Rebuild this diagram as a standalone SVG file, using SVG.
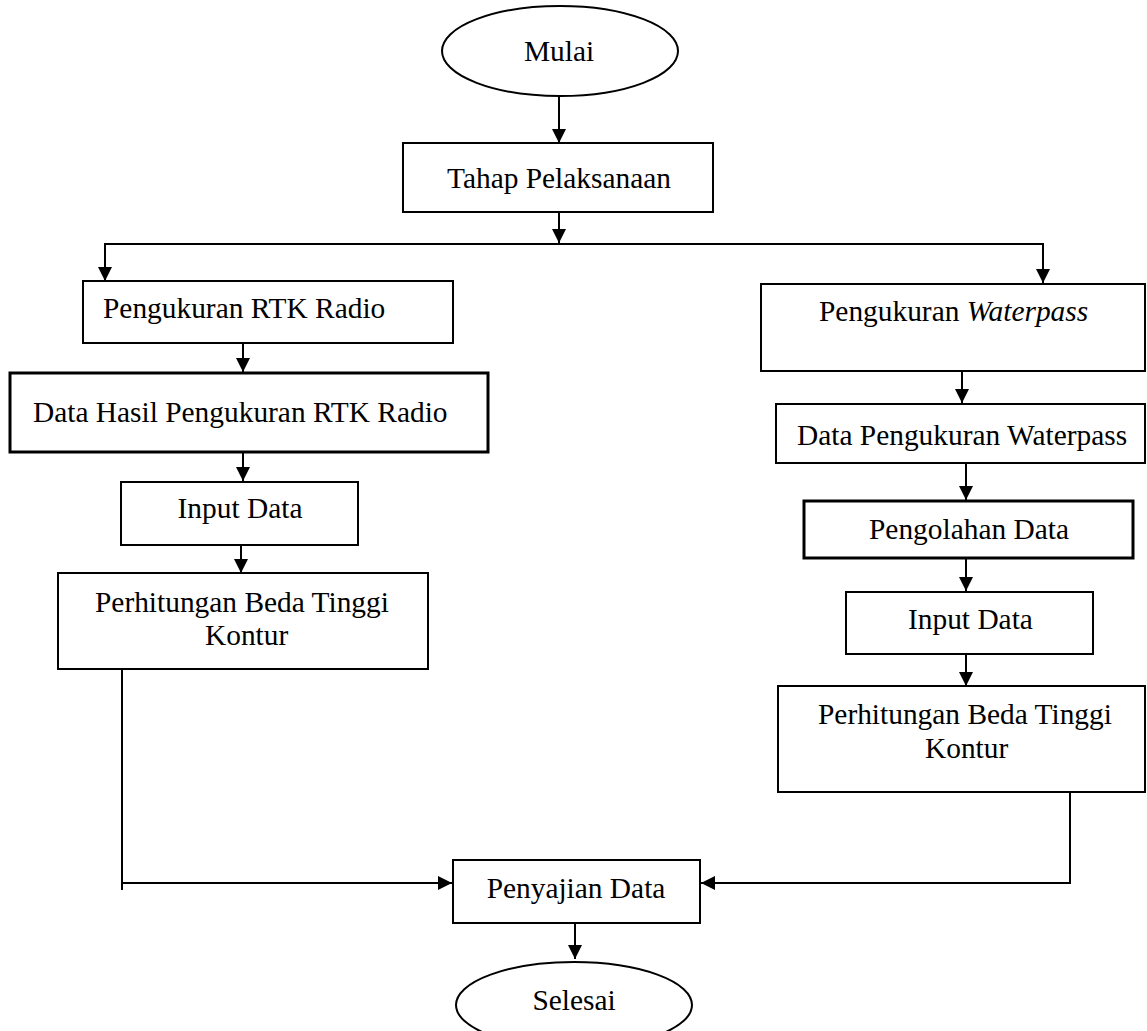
<svg xmlns="http://www.w3.org/2000/svg" width="1147" height="1031" viewBox="0 0 1147 1031">
<style>
.box{fill:#fff;stroke:#000;stroke-width:2}
.thick{stroke-width:3}
.t{font-family:"Liberation Serif","Times New Roman",serif;font-size:29.4px;fill:#000}
.c{stroke:#000;stroke-width:2;fill:none}
</style>
<defs>
<marker id="ah" markerUnits="userSpaceOnUse" markerWidth="14" markerHeight="14" refX="14" refY="7" orient="auto">
<path d="M0,0 L14,7 L0,14 z" fill="#000"/>
</marker>
</defs>
<rect width="1147" height="1031" fill="#fff"/>
<g id="connectors">
<line class="c" x1="559" y1="97" x2="559" y2="143" marker-end="url(#ah)"/>
<line class="c" x1="559" y1="212" x2="559" y2="243" marker-end="url(#ah)"/>
<line class="c" x1="104" y1="244" x2="1044" y2="244"/>
<line class="c" x1="105" y1="243" x2="105" y2="281" marker-end="url(#ah)"/>
<line class="c" x1="1043" y1="243" x2="1043" y2="283" marker-end="url(#ah)"/>
<line class="c" x1="243" y1="343" x2="243" y2="372" marker-end="url(#ah)"/>
<line class="c" x1="243" y1="452" x2="243" y2="481" marker-end="url(#ah)"/>
<line class="c" x1="241" y1="545" x2="241" y2="573" marker-end="url(#ah)"/>
<line class="c" x1="962" y1="371" x2="962" y2="403" marker-end="url(#ah)"/>
<line class="c" x1="966" y1="463" x2="966" y2="500" marker-end="url(#ah)"/>
<line class="c" x1="966" y1="558" x2="966" y2="591" marker-end="url(#ah)"/>
<line class="c" x1="966" y1="654" x2="966" y2="686" marker-end="url(#ah)"/>
<line class="c" x1="122" y1="669" x2="122" y2="890"/>
<line class="c" x1="122" y1="883" x2="452" y2="883" marker-end="url(#ah)"/>
<polyline class="c" points="1070,792 1070,883 701,883" marker-end="url(#ah)"/>
<line class="c" x1="575" y1="923" x2="575" y2="959" marker-end="url(#ah)"/>
</g>
<g id="mulai">
<ellipse class="box" cx="560" cy="51" rx="118" ry="45"/>
<text class="t" x="559" y="61" text-anchor="middle">Mulai</text>
</g>
<g id="tahap">
<rect class="box" x="403" y="143" width="310" height="69"/>
<text class="t" x="559" y="188" text-anchor="middle">Tahap Pelaksanaan</text>
</g>
<g id="rtk">
<rect class="box" x="83" y="281" width="370" height="62"/>
<text class="t" x="103" y="318">Pengukuran RTK Radio</text>
</g>
<g id="data-rtk">
<rect class="box thick" x="10" y="373" width="478" height="79"/>
<text class="t" x="33" y="422">Data Hasil Pengukuran RTK Radio</text>
</g>
<g id="input-left">
<rect class="box" x="121" y="482" width="237" height="63"/>
<text class="t" x="240" y="518" text-anchor="middle">Input Data</text>
</g>
<g id="hitung-left">
<rect class="box" x="58" y="573" width="370" height="96"/>
<text class="t" x="95" y="612">Perhitungan Beda Tinggi</text>
<text class="t" x="205" y="645">Kontur</text>
</g>
<g id="waterpass">
<rect class="box" x="761" y="284" width="384" height="87"/>
<text class="t" x="819" y="321">Pengukuran <tspan font-style="italic">Waterpass</tspan></text>
</g>
<g id="data-wp">
<rect class="box" x="776" y="404" width="369" height="59"/>
<text class="t" x="797" y="445">Data Pengukuran Waterpass</text>
</g>
<g id="olah">
<rect class="box thick" x="804" y="501" width="329" height="57"/>
<text class="t" x="869" y="539">Pengolahan Data</text>
</g>
<g id="input-right">
<rect class="box" x="846" y="592" width="247" height="62"/>
<text class="t" x="908" y="629">Input Data</text>
</g>
<g id="hitung-right">
<rect class="box" x="778" y="686" width="367" height="106"/>
<text class="t" x="818" y="724">Perhitungan Beda Tinggi</text>
<text class="t" x="925" y="758">Kontur</text>
</g>
<g id="penyajian">
<rect class="box" x="453" y="860" width="247" height="63"/>
<text class="t" x="576" y="898" text-anchor="middle">Penyajian Data</text>
</g>
<g id="selesai">
<ellipse class="box" cx="574" cy="1005" rx="118" ry="43"/>
<text class="t" x="574" y="1010" text-anchor="middle">Selesai</text>
</g>
</svg>
